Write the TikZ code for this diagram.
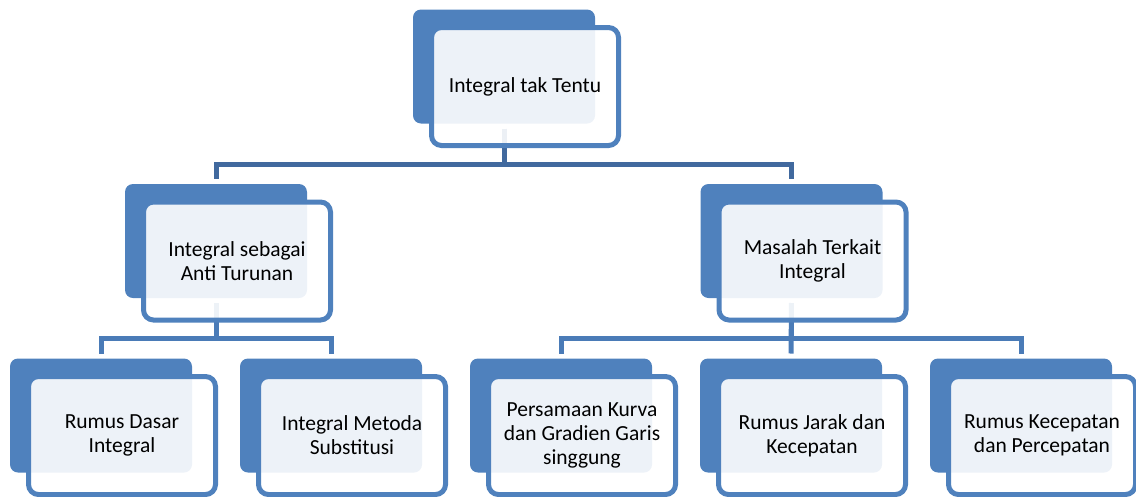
\documentclass[tikz,border=0pt]{standalone}
\usepackage{fontspec}
\setmainfont{Carlito}
\usetikzlibrary{positioning}

\definecolor{boxblue}{HTML}{4F81BD}
\definecolor{linkdark}{HTML}{41699E}
\definecolor{linkblue}{HTML}{4A7BB7}

\begin{document}
\begin{tikzpicture}[
    back/.style={fill=boxblue, rounded corners=8pt, minimum width=182pt, minimum height=114pt, inner sep=0pt, outer sep=0pt},
    front/.style={draw=boxblue, line width=5pt, rounded corners=10pt, fill=white, fill opacity=0.9, text opacity=1,
        minimum width=187pt, minimum height=118pt, inner sep=0pt, outer sep=0pt, align=center,
        font=\fontsize{21.5pt}{24pt}\selectfont, xshift=21pt, yshift=-20pt},
    link/.style={line width=5pt, shorten <=5pt, shorten >=5pt}
]

    \useasboundingbox (0,0) rectangle (1136pt,-496pt);

    % back boxes
    \node(top)[back] at (504pt,-66.5pt){};
    \node(anti)[back] at (216pt,-241pt){};
    \node(masalah)[back] at (791.5pt,-241pt){};
    \node(dasar)[back] at (101pt,-415.5pt){};
    \node(substitusi)[back, right=48pt of dasar]{};
    \node(kurva)[back, right=48pt of substitusi]{};
    \node(jarak)[back, right=48pt of kurva]{};
    \node(percepatan)[back, right=48pt of jarak]{};

    % connectors
    \draw[link, linkdark] (top.south) -- ++(0,-41pt) -| (anti.north);
    \draw[link, linkdark] (top.south) -- ++(0,-41pt) -| (masalah.north);

    \draw[link, linkblue] (anti.south) -- ++(0,-40pt) -| (dasar.north);
    \draw[link, linkblue] (anti.south) -- ++(0,-40pt) -| (substitusi.north);
    \draw[link, linkblue] (masalah.south) -- ++(0,-40pt) -| (kurva.north);
    \draw[link, linkblue] (masalah.south) -- (jarak.north);
    \draw[link, linkblue] (masalah.south) -- ++(0,-40pt) -| (percepatan.north);

    % front boxes
    \node(topf)[front] at (top){Integral tak Tentu};
    \node(antif)[front] at (anti){Integral sebagai\\Anti Turunan};
    \node(masalahf)[front] at (masalah){Masalah Terkait\\Integral};
    \node(dasarf)[front] at (dasar){Rumus Dasar\\Integral};
    \node(substitusif)[front] at (substitusi){Integral Metoda\\Substitusi};
    \node(kurvaf)[front] at (kurva){Persamaan Kurva\\dan Gradien Garis\\singgung};
    \node(jarakf)[front] at (jarak){Rumus Jarak dan\\Kecepatan};
    \node(percepatanf)[front] at (percepatan){Rumus Kecepatan\\dan Percepatan};

\end{tikzpicture}
\end{document}
